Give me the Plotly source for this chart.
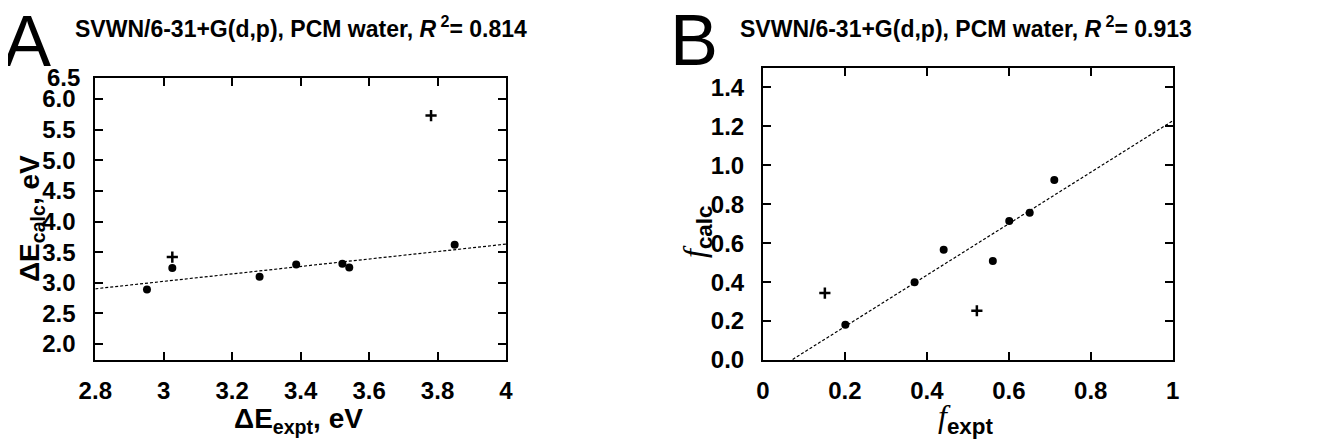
import plotly.graph_objects as go

W, H = 1320, 443

# Panel A data (excitation energies, eV)
a_circ_x = [2.951, 3.025, 3.28, 3.387, 3.522, 3.542, 3.85]
a_circ_y = [2.89, 3.24, 3.10, 3.30, 3.31, 3.25, 3.62]
a_plus_x = [3.025, 3.781]
a_plus_y = [3.42, 5.73]
a_fit_intercept = 1.199
a_fit_slope = 0.608
a_xticks = [2.8, 3.0, 3.2, 3.4, 3.6, 3.8, 4.0]
a_xticktext = ["2.8", "3", "3.2", "3.4", "3.6", "3.8", "4"]
a_yticks = [2.0, 2.5, 3.0, 3.5, 4.0, 4.5, 5.0, 5.5, 6.0]
a_yticktext = ["2.0", "2.5", "3.0", "3.5", "4.0", "4.5", "5.0", "5.5", "6.0"]

# Panel B data (oscillator strengths)
b_circ_x = [0.201, 0.370, 0.441, 0.561, 0.601, 0.651, 0.711]
b_circ_y = [0.181, 0.40, 0.566, 0.509, 0.714, 0.757, 0.925]
b_plus_x = [0.151, 0.522]
b_plus_y = [0.344, 0.253]
b_fit_intercept = -0.0925
b_fit_slope = 1.321
b_xticks = [0, 0.2, 0.4, 0.6, 0.8, 1.0]
b_xticktext = ["0", "0.2", "0.4", "0.6", "0.8", "1"]
b_yticks = [0.0, 0.2, 0.4, 0.6, 0.8, 1.0, 1.2, 1.4]
b_yticktext = ["0.0", "0.2", "0.4", "0.6", "0.8", "1.0", "1.2", "1.4"]

FONT = "Liberation Sans, Arial, sans-serif"
OFF = 8  # page body margin offset

def px_x(p):
    return (p - OFF) / W

def px_y(p):
    return 1 - (p - OFF) / H

fig = go.Figure()

# Panel A
a_fx = [a_xticks[0], a_xticks[-1]]
fig.add_trace(go.Scatter(x=a_fx, y=[a_fit_intercept + a_fit_slope * v for v in a_fx],
                         mode="lines", line=dict(color="black", width=1.2, dash="3px,2px"),
                         xaxis="x", yaxis="y", showlegend=False))
fig.add_trace(go.Scatter(x=a_circ_x, y=a_circ_y, mode="markers",
                         marker=dict(symbol="circle", size=8, color="black"),
                         xaxis="x", yaxis="y", showlegend=False))
fig.add_trace(go.Scatter(x=a_plus_x, y=a_plus_y, mode="markers",
                         marker=dict(symbol="cross-thin", size=8, line=dict(color="black", width=2.5)),
                         xaxis="x", yaxis="y", showlegend=False))

# Panel B
b_fx = [b_xticks[0], b_xticks[-1]]
fig.add_trace(go.Scatter(x=b_fx, y=[b_fit_intercept + b_fit_slope * v for v in b_fx],
                         mode="lines", line=dict(color="black", width=1.2, dash="3px,2px"),
                         xaxis="x2", yaxis="y2", showlegend=False))
fig.add_trace(go.Scatter(x=b_circ_x, y=b_circ_y, mode="markers",
                         marker=dict(symbol="circle", size=8, color="black"),
                         xaxis="x2", yaxis="y2", showlegend=False))
fig.add_trace(go.Scatter(x=b_plus_x, y=b_plus_y, mode="markers",
                         marker=dict(symbol="cross-thin", size=8, line=dict(color="black", width=2.5)),
                         xaxis="x2", yaxis="y2", showlegend=False))

axis_common = dict(showgrid=False, zeroline=False, showline=True, linecolor="black", linewidth=2,
                   mirror="ticks", ticks="inside", ticklen=8, tickwidth=1.5, tickcolor="black")
TICKFONT = dict(size=24, family=FONT, weight="bold")

fig.update_layout(
    width=W, height=H, margin=dict(l=0, r=0, t=0, b=0, autoexpand=False),
    paper_bgcolor="white", plot_bgcolor="white",
    font=dict(family=FONT, color="black"),
    xaxis=dict(domain=[px_x(95.3), px_x(506)], range=[2.8, 4.0], anchor="y",
               tickvals=a_xticks, ticktext=a_xticktext,
               tickfont=TICKFONT, ticklabelstandoff=8, **axis_common),
    yaxis=dict(domain=[px_y(360), px_y(78)], range=[1.739, 6.343], anchor="x",
               tickvals=a_yticks, ticktext=a_yticktext,
               tickfont=TICKFONT, ticklabelstandoff=13, **axis_common),
    xaxis2=dict(domain=[px_x(763), px_x(1172.7)], range=[0, 1.0], anchor="y2",
                tickvals=b_xticks, ticktext=b_xticktext,
                tickfont=TICKFONT, ticklabelstandoff=8, **axis_common),
    yaxis2=dict(domain=[px_y(360), px_y(68)], range=[0, 1.5], anchor="x2",
                tickvals=b_yticks, ticktext=b_yticktext,
                tickfont=TICKFONT, ticklabelstandoff=12, **axis_common),
)

def ann(text, x, y, size, xanchor="center", yanchor="middle", angle=0, bold=True, family=FONT):
    fig.add_annotation(text=text, x=px_x(x), y=px_y(y), xref="paper", yref="paper",
                       showarrow=False, xanchor=xanchor, yanchor=yanchor, textangle=angle,
                       font=dict(size=size, family=family, color="black",
                                 weight="bold" if bold else "normal"))

# Panel letters
ann("A", 27, 41, 72, bold=False)
ann("B", 694, 40, 72, bold=False)

# Titles
ann("SVWN/6-31+G(d,p), PCM water, <i>R</i><sup> 2</sup>= 0.814", 301, 27, 23)
ann("SVWN/6-31+G(d,p), PCM water, <i>R</i><sup> 2</sup>= 0.913", 966, 27, 23)

# Extra 6.5 label at top of panel A axis
ann("6.5", 82, 77, 24, xanchor="right")

# Axis titles
ann("ΔE<sub>calc</sub>, eV", 31, 219, 28, angle=-90)
ann("ΔE<sub>expt</sub>, eV", 298, 420, 28)
serif_f = "<span style='font-family:Liberation Serif, Times New Roman, serif;font-style:italic;font-weight:normal'>f</span>"
ann(serif_f + "<sub>calc</sub>", 696, 232, 32, angle=-90)
ann(serif_f + "<sub>expt</sub>", 966, 418, 32)

fig.write_html("out.html")
